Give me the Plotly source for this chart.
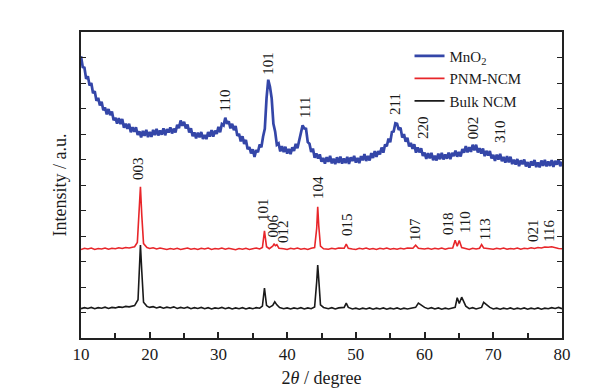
import plotly.graph_objects as go

# ---------------- data ----------------
mno2_x = [10.0, 10.25, 10.5, 10.75, 11.0, 11.25, 11.5, 11.75, 12.0, 12.25, 12.5, 12.75,
          13.0, 13.25, 13.5, 13.75, 14.0, 14.25, 14.5, 14.75, 15.0, 15.25, 15.5, 15.75,
          16.0, 16.25, 16.5, 16.75, 17.0, 17.25, 17.5, 17.75, 18.0, 18.25, 18.5, 18.75,
          19.0, 19.25, 19.5, 19.75, 20.0, 20.25, 20.5, 20.75, 21.0, 21.25, 21.5, 21.75,
          22.0, 22.25, 22.5, 22.75, 23.0, 23.25, 23.5, 23.75, 24.0, 24.25, 24.5, 24.75,
          25.0, 25.25, 25.5, 25.75, 26.0, 26.25, 26.5, 26.75, 27.0, 27.25, 27.5, 27.75,
          28.0, 28.25, 28.5, 28.75, 29.0, 29.25, 29.5, 29.75, 30.0, 30.25, 30.5, 30.75,
          31.0, 31.25, 31.5, 31.75, 32.0, 32.25, 32.5, 32.75, 33.0, 33.25, 33.5, 33.75,
          34.0, 34.25, 34.5, 34.75, 35.0, 35.25, 35.5, 35.75, 36.0, 36.25, 36.5, 36.75,
          37.0, 37.25, 37.5, 37.75, 38.0, 38.25, 38.5, 38.75, 39.0, 39.25, 39.5, 39.75,
          40.0, 40.25, 40.5, 40.75, 41.0, 41.25, 41.5, 41.75, 42.0, 42.25, 42.5, 42.75,
          43.0, 43.25, 43.5, 43.75, 44.0, 44.25, 44.5, 44.75, 45.0, 45.25, 45.5, 45.75,
          46.0, 46.25, 46.5, 46.75, 47.0, 47.25, 47.5, 47.75, 48.0, 48.25, 48.5, 48.75,
          49.0, 49.25, 49.5, 49.75, 50.0, 50.25, 50.5, 50.75, 51.0, 51.25, 51.5, 51.75,
          52.0, 52.25, 52.5, 52.75, 53.0, 53.25, 53.5, 53.75, 54.0, 54.25, 54.5, 54.75,
          55.0, 55.25, 55.5, 55.75, 56.0, 56.25, 56.5, 56.75, 57.0, 57.25, 57.5, 57.75,
          58.0, 58.25, 58.5, 58.75, 59.0, 59.25, 59.5, 59.75, 60.0, 60.25, 60.5, 60.75,
          61.0, 61.25, 61.5, 61.75, 62.0, 62.25, 62.5, 62.75, 63.0, 63.25, 63.5, 63.75,
          64.0, 64.25, 64.5, 64.75, 65.0, 65.25, 65.5, 65.75, 66.0, 66.25, 66.5, 66.75,
          67.0, 67.25, 67.5, 67.75, 68.0, 68.25, 68.5, 68.75, 69.0, 69.25, 69.5, 69.75,
          70.0, 70.25, 70.5, 70.75, 71.0, 71.25, 71.5, 71.75, 72.0, 72.25, 72.5, 72.75,
          73.0, 73.25, 73.5, 73.75, 74.0, 74.25, 74.5, 74.75, 75.0, 75.25, 75.5, 75.75,
          76.0, 76.25, 76.5, 76.75, 77.0, 77.25, 77.5, 77.75, 78.0, 78.25, 78.5, 78.75,
          79.0, 79.25, 79.5, 79.75, 80.0]
mno2_y = [11.05, 10.63, 10.6, 10.16, 10.27, 9.9, 10.0, 9.6, 9.68, 9.3, 9.42, 9.12,
          9.26, 8.93, 9.04, 8.77, 8.98, 8.74, 8.88, 8.54, 8.64, 8.41, 8.62, 8.39,
          8.59, 8.25, 8.4, 8.2, 8.4, 8.07, 8.27, 8.09, 8.26, 7.96, 8.1, 7.87,
          8.12, 7.93, 8.16, 7.88, 8.08, 7.89, 8.16, 7.96, 8.2, 7.94, 8.14, 7.97,
          8.22, 7.95, 8.19, 8.06, 8.26, 8.02, 8.21, 8.06, 8.36, 8.23, 8.53, 8.32,
          8.48, 8.22, 8.37, 8.06, 8.22, 7.91, 8.06, 7.83, 8.05, 7.87, 8.08, 7.81,
          7.96, 7.8, 8.08, 7.9, 8.15, 7.9, 8.13, 8.0, 8.28, 8.07, 8.39, 8.34,
          8.64, 8.4, 8.5, 8.22, 8.4, 8.15, 8.31, 7.93, 8.01, 7.71, 7.91, 7.61,
          7.77, 7.4, 7.49, 7.24, 7.4, 7.1, 7.37, 7.29, 7.59, 7.48, 7.9, 8.2,
          9.4, 10.13, 9.85, 9.4, 8.4, 8.1, 7.58, 7.63, 7.32, 7.52, 7.29, 7.5,
          7.23, 7.41, 7.21, 7.48, 7.34, 7.61, 7.44, 7.79, 8.0, 8.34, 8.22, 8.2,
          7.68, 7.62, 7.3, 7.43, 7.07, 7.24, 7.04, 7.2, 6.91, 7.06, 6.84, 7.09,
          6.91, 7.14, 6.85, 7.03, 6.82, 7.09, 6.87, 7.11, 6.84, 7.04, 6.86, 7.1,
          6.83, 7.08, 6.94, 7.14, 6.88, 7.06, 6.86, 7.13, 6.97, 7.21, 6.94, 7.14,
          6.96, 7.25, 7.06, 7.33, 7.1, 7.33, 7.2, 7.47, 7.27, 7.59, 7.52, 7.82,
          7.68, 8.08, 8.1, 8.42, 8.4, 8.16, 8.25, 7.86, 8.0, 7.7, 7.85, 7.51,
          7.65, 7.42, 7.6, 7.27, 7.47, 7.28, 7.44, 7.14, 7.27, 7.02, 7.25, 7.05,
          7.26, 6.97, 7.15, 6.96, 7.23, 7.01, 7.26, 7.0, 7.2, 7.03, 7.27, 7.01,
          7.26, 7.13, 7.35, 7.11, 7.3, 7.12, 7.41, 7.27, 7.53, 7.28, 7.48, 7.3,
          7.58, 7.36, 7.58, 7.28, 7.44, 7.23, 7.43, 7.13, 7.34, 7.16, 7.33, 7.04,
          7.18, 6.95, 7.19, 7.0, 7.22, 6.93, 7.1, 6.88, 7.13, 6.89, 7.11, 6.82,
          6.99, 6.8, 7.02, 6.74, 6.97, 6.81, 7.0, 6.73, 6.9, 6.68, 6.93, 6.76,
          6.98, 6.7, 6.88, 6.69, 6.96, 6.75, 6.99, 6.73, 6.92, 6.75, 6.98, 6.71,
          6.95, 6.8, 7.0, 6.74, 6.91]

pnm_x = [10, 10.5, 11, 11.5, 12, 12.5, 13, 13.5, 14, 14.5, 15, 15.5, 16, 16.5, 17, 17.5, 17.8,
         18.2, 18.45, 18.65, 18.85, 19.1, 19.6, 20, 20.5, 21, 21.5, 22, 22.5, 23, 23.5, 24, 24.5,
         25, 25.5, 26, 26.5, 27, 27.5, 28, 28.5, 29, 29.5, 30, 30.5, 31, 31.5, 32, 32.5, 33, 33.5,
         34, 34.5, 35, 35.5, 36, 36.4, 36.7, 37.0, 37.4, 37.9, 38.1, 38.3, 38.5, 38.8, 39.5, 40,
         40.5, 41, 41.5, 42, 42.5, 43, 43.5, 44.0, 44.3, 44.45, 44.6, 44.85, 45.3, 46, 46.5, 47,
         47.5, 48.3, 48.6, 48.9, 49.5, 50, 50.5, 51, 51.5, 52, 52.5, 53, 53.5, 54, 54.5, 55, 55.5,
         56, 56.5, 57, 57.5, 58.3, 58.7, 59.1, 60, 60.5, 61, 61.5, 62, 62.5, 63, 63.5, 64.1, 64.45,
         64.75, 65.05, 65.4, 66, 66.5, 67, 67.5, 68.0, 68.3, 68.6, 69.5, 70, 70.5, 71, 71.5, 72,
         72.5, 73, 73.5, 74, 74.5, 75, 75.5, 76, 76.5, 77, 77.5, 78, 78.5, 79, 79.5, 80]
pnm_y = [3.47, 3.52, 3.49, 3.53, 3.47, 3.51, 3.49, 3.53, 3.48, 3.52, 3.5, 3.54, 3.51, 3.55, 3.53,
         3.56, 3.58, 3.75, 4.9, 5.93, 4.8, 3.7, 3.55, 3.51, 3.54, 3.49, 3.53, 3.5, 3.47, 3.51,
         3.48, 3.52, 3.47, 3.5, 3.53, 3.48, 3.51, 3.47, 3.52, 3.49, 3.53, 3.47, 3.51, 3.49, 3.53,
         3.48, 3.52, 3.49, 3.46, 3.51, 3.48, 3.52, 3.47, 3.5, 3.53, 3.49, 3.55, 4.2, 3.58, 3.5,
         3.6, 3.68, 3.62, 3.66, 3.52, 3.5, 3.47, 3.52, 3.49, 3.53, 3.48, 3.51, 3.47, 3.52, 3.55,
         4.3, 5.15, 4.4, 3.6, 3.5, 3.48, 3.52, 3.49, 3.53, 3.52, 3.68, 3.52, 3.49, 3.47, 3.52,
         3.49, 3.53, 3.48, 3.51, 3.47, 3.52, 3.49, 3.53, 3.48, 3.51, 3.48, 3.52, 3.49, 3.53,
         3.52, 3.64, 3.52, 3.49, 3.52, 3.48, 3.52, 3.49, 3.53, 3.48, 3.52, 3.53, 3.83, 3.6, 3.82,
         3.55, 3.5, 3.47, 3.52, 3.49, 3.52, 3.66, 3.53, 3.5, 3.48, 3.52, 3.49, 3.53, 3.48, 3.51,
         3.49, 3.53, 3.48, 3.52, 3.5, 3.54, 3.51, 3.55, 3.53, 3.57, 3.56, 3.58, 3.54, 3.51, 3.5]

bulk_x = [10, 10.5, 11, 11.5, 12, 12.5, 13, 13.5, 14, 14.5, 15, 15.5, 16, 16.5, 17, 17.5, 17.8,
          18.3, 18.5, 18.65, 18.85, 19.1, 19.6, 20, 20.5, 21, 21.5, 22, 22.5, 23, 23.5, 24, 24.5,
          25, 25.5, 26, 26.5, 27, 27.5, 28, 28.5, 29, 29.5, 30, 30.5, 31, 31.5, 32, 32.5, 33, 33.5,
          34, 34.5, 35, 35.5, 36, 36.4, 36.7, 37.0, 37.4, 37.9, 38.2, 38.5, 38.9, 39.5, 40, 40.5,
          41, 41.5, 42, 42.5, 43, 43.5, 44.0, 44.3, 44.45, 44.6, 44.85, 45.3, 46, 46.5, 47, 47.5,
          48.3, 48.6, 48.9, 49.5, 50, 50.5, 51, 51.5, 52, 52.5, 53, 53.5, 54, 54.5, 55, 55.5, 56,
          56.5, 57, 57.5, 58.3, 58.7, 59.1, 60, 60.5, 61, 61.5, 62, 62.5, 63, 63.5, 64.1, 64.45,
          64.75, 65.05, 65.4, 66, 66.5, 67, 67.5, 68.0, 68.3, 68.6, 69.5, 70, 70.5, 71, 71.5, 72,
          72.5, 73, 73.5, 74, 74.5, 75, 75.5, 76, 76.5, 77, 77.5, 78, 78.5, 79, 79.5, 80]
bulk_y = [1.15, 1.19, 1.16, 1.2, 1.15, 1.19, 1.17, 1.21, 1.16, 1.2, 1.18, 1.22, 1.2, 1.24, 1.22,
          1.26, 1.27, 1.5, 2.8, 3.65, 2.6, 1.4, 1.24, 1.2, 1.23, 1.18, 1.22, 1.17, 1.21, 1.18, 1.22,
          1.16, 1.2, 1.17, 1.21, 1.15, 1.19, 1.16, 1.2, 1.15, 1.19, 1.14, 1.18, 1.16, 1.2, 1.15,
          1.19, 1.14, 1.18, 1.15, 1.19, 1.14, 1.18, 1.15, 1.19, 1.17, 1.25, 1.96, 1.28, 1.2, 1.28,
          1.42, 1.3, 1.19, 1.15, 1.18, 1.14, 1.18, 1.15, 1.19, 1.14, 1.18, 1.15, 1.22, 2.2, 2.86,
          2.3, 1.3, 1.2, 1.15, 1.19, 1.14, 1.18, 1.2, 1.37, 1.2, 1.14, 1.17, 1.13, 1.17, 1.14,
          1.18, 1.13, 1.17, 1.14, 1.18, 1.13, 1.17, 1.14, 1.18, 1.13, 1.17, 1.14, 1.18, 1.2, 1.37,
          1.2, 1.15, 1.19, 1.14, 1.18, 1.13, 1.17, 1.14, 1.18, 1.2, 1.58, 1.35, 1.6, 1.25, 1.15,
          1.19, 1.14, 1.18, 1.2, 1.4, 1.2, 1.14, 1.17, 1.13, 1.17, 1.14, 1.18, 1.13, 1.17, 1.14,
          1.18, 1.13, 1.17, 1.14, 1.18, 1.13, 1.17, 1.15, 1.19, 1.16, 1.2, 1.15, 1.19, 1.16, 1.18]

# peak labels
mno2_labels = ["110", "101", "111", "211", "220", "002", "310"]
mno2_lab_x = [31.0, 37.3, 42.6, 55.7, 59.8, 67.1, 71.0]
mno2_lab_y = [9.33, 10.78, 9.02, 9.18, 8.24, 8.24, 8.08]

ncm_labels = ["003", "101", "006", "012", "104", "015", "107", "018", "110", "113", "021", "116"]
ncm_lab_x = [18.3, 36.5, 38.0, 39.4, 44.5, 48.7, 58.6, 63.4, 65.9, 68.8, 75.8, 78.1]
ncm_lab_y = [6.63, 5.02, 4.39, 4.16, 5.88, 4.47, 4.27, 4.51, 4.55, 4.27, 4.2, 4.2]

x_ticks = [10, 20, 30, 40, 50, 60, 70, 80]

# ---------------- figure ----------------
FONT = "Liberation Serif, Times New Roman, serif"
fig = go.Figure()
fig.add_trace(go.Scatter(x=mno2_x, y=mno2_y, mode="lines", name="MnO<sub>2</sub>",
                         line=dict(color="#3446a8", width=2.7)))
fig.add_trace(go.Scatter(x=pnm_x, y=pnm_y, mode="lines", name="PNM-NCM",
                         line=dict(color="#e8262a", width=1.6)))
fig.add_trace(go.Scatter(x=bulk_x, y=bulk_y, mode="lines", name="Bulk NCM",
                         line=dict(color="#1a1a1a", width=1.6)))

for t, x, y in zip(mno2_labels + ncm_labels, mno2_lab_x + ncm_lab_x, mno2_lab_y + ncm_lab_y):
    fig.add_annotation(x=x, y=y, text=t, textangle=-90, showarrow=False,
                       font=dict(family=FONT, size=15, color="#1a1a1a"))

fig.update_layout(
    width=613, height=392,
    margin=dict(l=73, r=59, t=24, b=62),
    paper_bgcolor="white", plot_bgcolor="white",
    font=dict(family=FONT, color="#1a1a1a"),
    showlegend=True,
    legend=dict(x=0.683, y=0.975, xanchor="left", yanchor="top",
                font=dict(family=FONT, size=15), bgcolor="rgba(0,0,0,0)",
                tracegroupgap=0),
    xaxis=dict(range=[10, 80], tickvals=x_ticks, ticks="inside", ticklen=6, tickwidth=1.5,
               tickcolor="#222", showline=True, linecolor="#222", linewidth=1.8, mirror=True,
               showgrid=False, zeroline=False, tickfont=dict(family=FONT, size=17),
               minor=dict(dtick=5, tick0=10, ticks="inside", ticklen=5, tickcolor="#222", tickwidth=1.5),
               title=dict(text="2<i>θ</i> / degree", font=dict(family=FONT, size=18), standoff=8)),
    yaxis=dict(range=[0, 12], dtick=1, ticks="inside", ticklen=5, tickwidth=1.2, tickcolor="#222",
               showticklabels=False, showline=True, linecolor="#222", linewidth=1.8, mirror="ticks",
               showgrid=False, zeroline=False,
               title=dict(text="Intensity / a.u.", font=dict(family=FONT, size=18), standoff=8)),
)

fig.write_html("out.html")
